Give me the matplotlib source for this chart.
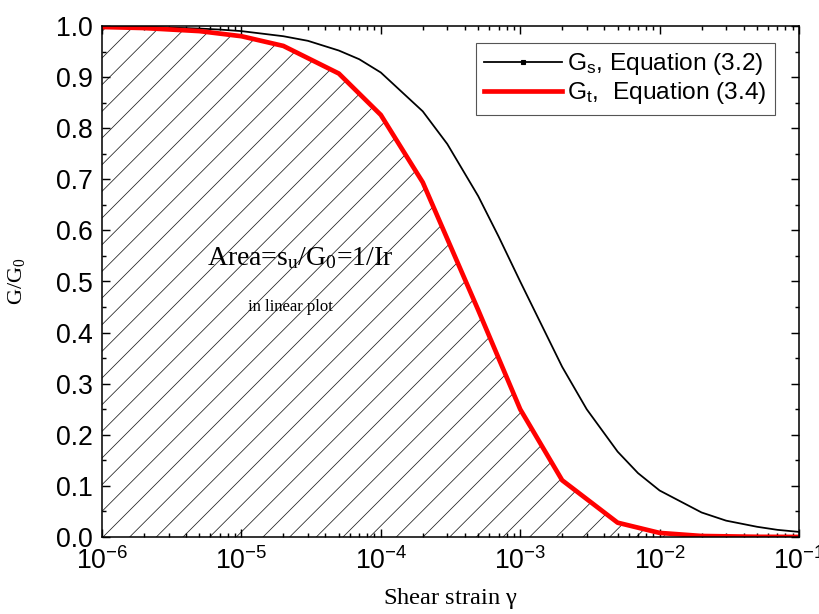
import numpy as np
import matplotlib
matplotlib.use("Agg")
import matplotlib.pyplot as plt
from matplotlib.lines import Line2D
from matplotlib.ticker import MultipleLocator, LogLocator, NullFormatter

plt.rcParams['font.family'] = ['Liberation Sans', 'DejaVu Sans']
plt.rcParams['mathtext.fontset'] = 'custom'
plt.rcParams['mathtext.rm'] = 'Liberation Sans'
plt.rcParams['hatch.linewidth'] = 0.7

# secant modulus curve Gs/G0
strain_s = [1e-6, 2e-6, 3e-6, 5e-6, 7e-6, 1e-5, 2e-5, 3e-5, 5e-5, 7e-5,
            1e-4, 2e-4, 3e-4, 5e-4, 7e-4, 1e-3, 2e-3, 3e-3, 5e-3, 7e-3,
            1e-2, 2e-2, 3e-2, 5e-2, 7e-2, 1e-1]
gs = [0.999, 0.998, 0.997, 0.995, 0.993, 0.990, 0.980, 0.971, 0.952, 0.935,
      0.909, 0.833, 0.769, 0.667, 0.588, 0.500, 0.333, 0.250, 0.167, 0.125,
      0.091, 0.048, 0.032, 0.020, 0.014, 0.010]

# tangent modulus curve Gt/G0
strain_t = [1e-6, 2e-6, 5e-6, 1e-5, 2e-5, 5e-5, 1e-4, 2e-4, 5e-4,
            1e-3, 2e-3, 5e-3, 1e-2, 2e-2, 5e-2, 1e-1]
gt = [0.998, 0.996, 0.990, 0.980, 0.961, 0.907, 0.826, 0.694, 0.444,
      0.250, 0.111, 0.028, 0.008, 0.002, 0.0004, 0.0001]

fig = plt.figure(figsize=(819 / 80, 614 / 80), dpi=80)
ax = fig.add_axes([102 / 819, 1 - 537 / 614, 697 / 819, 511 / 614])

ax.fill_between(strain_t, 0, gt, facecolor='none', edgecolor='#222222',
                hatch='/', linewidth=0)
ax.plot(strain_s, gs, color='black', lw=1.6)
ax.plot(strain_t, gt, color='red', lw=4.2)

ax.set_xscale('log')
ax.set_xlim(1e-6, 1e-1)
ax.set_ylim(0, 1.0)
ax.yaxis.set_major_locator(MultipleLocator(0.1))
ax.yaxis.set_minor_locator(MultipleLocator(0.05))
ax.yaxis.set_major_formatter(plt.FormatStrFormatter('%.1f'))
ax.xaxis.set_minor_locator(LogLocator(base=10, subs=np.arange(2, 10), numticks=20))
ax.xaxis.set_minor_formatter(NullFormatter())

ax.tick_params(which='both', direction='in', top=True, right=True,
               width=1.3, labelsize=24, colors='black')
ax.tick_params(which='major', length=7)
ax.tick_params(which='minor', length=4)
ax.tick_params(axis='x', which='major', pad=9)
ax.tick_params(axis='y', which='major', pad=8)
for s in ax.spines.values():
    s.set_linewidth(1.4)

ax.set_xlabel(r'Shear strain $\mathregular{\gamma}$', family='Liberation Serif',
              fontsize=22)
ax.xaxis.set_label_coords(0.5, -0.095)
ax.set_ylabel(r'$\mathregular{G/G_0}$', family='Liberation Serif', fontsize=20)
ax.yaxis.set_label_coords(-0.108, 0.5)

ax.text(0.284, 0.545, r'Area=$\mathregular{s_u/G_0}$=1/Ir', transform=ax.transAxes,
        family='Liberation Serif', fontsize=25, ha='center', va='center')
ax.text(0.27, 0.45, 'in linear plot', transform=ax.transAxes,
        family='Liberation Serif', fontsize=15, ha='center', va='center')

handles = [Line2D([], [], color='black', lw=1.6, marker='s', ms=3.5),
           Line2D([], [], color='red', lw=4.2)]
labels = [r'$\mathregular{G_s}$, Equation (3.2)',
          r'$\mathregular{G_t}$,  Equation (3.4)']
leg = ax.legend(handles, labels, loc='upper right', bbox_to_anchor=(0.966, 0.967),
                borderaxespad=0, fontsize=22, fancybox=False, framealpha=1,
                edgecolor='#555555', handlelength=3.2, handletextpad=0.2,
                borderpad=0.35, labelspacing=0.12)
leg.get_frame().set_linewidth(1.0)

fig.savefig('out.png', dpi=80)
